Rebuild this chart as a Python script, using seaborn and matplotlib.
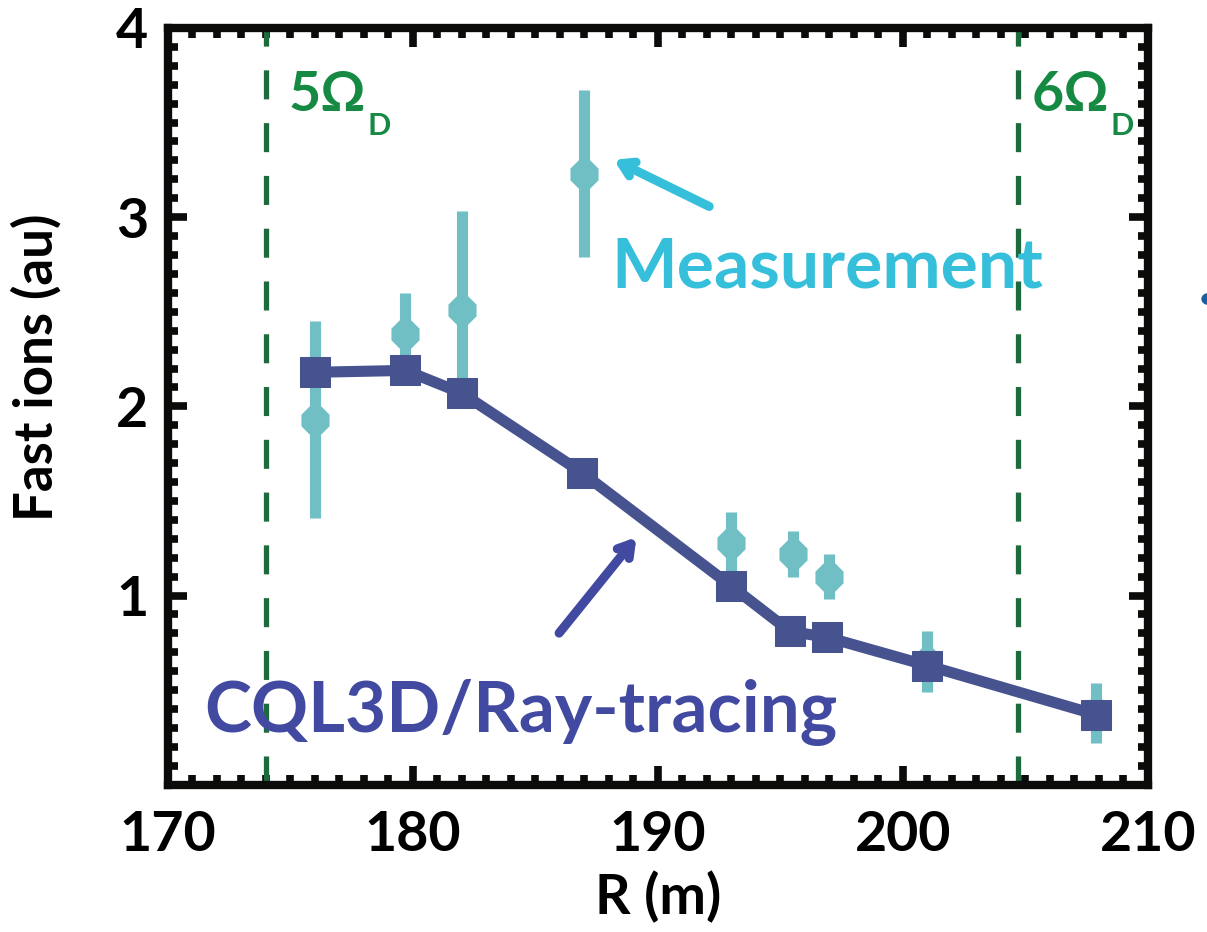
import numpy as np
import pandas as pd
import matplotlib
matplotlib.use("Agg")
import matplotlib.pyplot as plt
import seaborn as sns
from matplotlib.ticker import MultipleLocator, NullFormatter
from matplotlib.patches import Circle

# CQL3D / ray-tracing simulation
sim_R = [176.0, 179.7, 182.0, 186.9, 193.0, 195.4, 196.9, 201.0, 207.9]
sim_fast = [2.18, 2.19, 2.07, 1.65, 1.05, 0.81, 0.78, 0.63, 0.37]

# Measured fast-ion signal with uncertainties
meas_R = [176.0, 179.7, 182.0, 187.0, 193.0, 195.5, 197.0, 201.0, 207.9]
meas_fast = [1.93, 2.38, 2.51, 3.23, 1.28, 1.22, 1.10, 0.65, 0.38]
meas_err = [0.52, 0.22, 0.52, 0.44, 0.16, 0.12, 0.12, 0.16, 0.16]

# Cyclotron harmonic resonance locations
res_R = [174.0, 204.7]
res_labels = ["5Ω", "6Ω"]

x_ticks = [170, 180, 190, 200, 210]
y_ticks = [1, 2, 3, 4]

sns.set_style("white")
plt.rcParams["font.family"] = ["Lato", "DejaVu Sans"]
plt.rcParams["font.weight"] = "bold"
plt.rcParams["text.color"] = "black"
plt.rcParams["axes.labelcolor"] = "black"
plt.rcParams["xtick.color"] = "black"
plt.rcParams["ytick.color"] = "black"
plt.rcParams["ytick.minor.visible"] = True
plt.rcParams["ytick.minor.right"] = True
plt.rcParams["ytick.right"] = True
plt.rcParams["ytick.left"] = True
plt.rcParams["xtick.top"] = True
plt.rcParams["xtick.bottom"] = True
plt.rcParams["ytick.direction"] = "in"
plt.rcParams["xtick.direction"] = "in"

sim = pd.DataFrame({"R": sim_R, "fast": sim_fast})
meas = pd.DataFrame({"R": meas_R, "fast": meas_fast, "err": meas_err})

c_meas = "#6fbfc4"
c_sim = "#46538f"
c_res = "#1d6b3c"
c_res_txt = "#168a43"
c_meas_txt = "#36bfdb"
c_sim_txt = "#4149a0"
c_ax = "#0b0c0a"

fig = plt.figure(figsize=(12.07, 9.32), dpi=100)
ax = fig.add_axes([0.139, 0.158, 0.812, 0.812])

for r in res_R:
    ax.axvline(r, color=c_res, lw=3.8, ls=(0, (5.5, 4.5)), zorder=1)

ax.errorbar(meas["R"], meas["fast"], yerr=meas["err"], fmt="none",
            ecolor=c_meas, elinewidth=8, capsize=0, zorder=2)
sns.scatterplot(data=meas, x="R", y="fast", ax=ax, marker="8", s=480,
                color=c_meas, edgecolor=c_meas, linewidth=0, zorder=3)
sns.lineplot(data=sim, x="R", y="fast", ax=ax, color=c_sim, lw=8,
             marker="s", markersize=22, markeredgecolor=c_sim,
             markerfacecolor=c_sim, zorder=4)

ax.set_xlim(170, 210)
ax.set_ylim(0, 4)
ax.set_xticks(x_ticks)
ax.set_yticks(y_ticks)
ax.xaxis.set_minor_locator(MultipleLocator(1))
ax.yaxis.set_minor_locator(MultipleLocator(0.1))
ax.tick_params(which="both", direction="in", top=True, right=True,
               bottom=True, left=True, color=c_ax, labelcolor="black",
               labeltop=False, labelright=False)
ax.tick_params(which="major", length=14, width=5.5, labelsize=40, pad=14)
ax.tick_params(which="minor", length=7, width=5.5)
ax.tick_params(axis="x", which="major", pad=18)
ax.tick_params(axis="y", which="minor", right=True, length=7, width=5.5,
               color=c_ax)
for lab in ax.get_xticklabels() + ax.get_yticklabels():
    lab.set_fontweight("bold")
for sp in ax.spines.values():
    sp.set_linewidth(6)
    sp.set_color(c_ax)

ax.set_xlabel("R (m)", fontsize=40, fontweight="bold", labelpad=8)
ax.set_ylabel("Fast ions (au)", fontsize=38, fontweight="bold")
ax.yaxis.set_label_coords(-0.108, 0.552)

# Resonance labels with subscripts
for r, lab, dx in zip(res_R, res_labels, [0.95, 0.55]):
    t = ax.text(r + dx, 3.56, lab, fontsize=40, fontweight="bold",
                color=c_res_txt, family=["Lato", "DejaVu Sans"],
                ha="left", va="baseline", zorder=5)
    ax.annotate("D", xy=(1, 0), xycoords=t, xytext=(1, -11),
                textcoords="offset points", fontsize=22, fontweight="bold",
                color=c_res_txt, ha="left", va="baseline", zorder=5)

ax.annotate("", xy=(188.1, 3.31), xytext=(192.2, 3.05),
            arrowprops=dict(arrowstyle="->,head_length=0.9,head_width=0.55",
                            color=c_meas_txt, lw=6.5), zorder=5)
ax.text(188.1, 2.63, "Measurement", fontsize=50, fontweight="bold",
        color=c_meas_txt, ha="left", va="baseline", zorder=5)

ax.annotate("", xy=(189.2, 1.32), xytext=(185.9, 0.79),
            arrowprops=dict(arrowstyle="->,head_length=0.9,head_width=0.55",
                            color=c_sim_txt, lw=6.5), zorder=5)
ax.text(171.5, 0.28, "CQL3D/Ray-tracing", fontsize=51, fontweight="bold",
        color=c_sim_txt, ha="left", va="baseline", zorder=5)

# small marker at the right edge of the figure
fig.patches.append(Circle((1209 / 1207, 1 - 299 / 932), 7 / 1207,
                          transform=fig.transFigure, color="#1a5da0",
                          figure=fig))

fig.savefig("out.png", dpi=100)
